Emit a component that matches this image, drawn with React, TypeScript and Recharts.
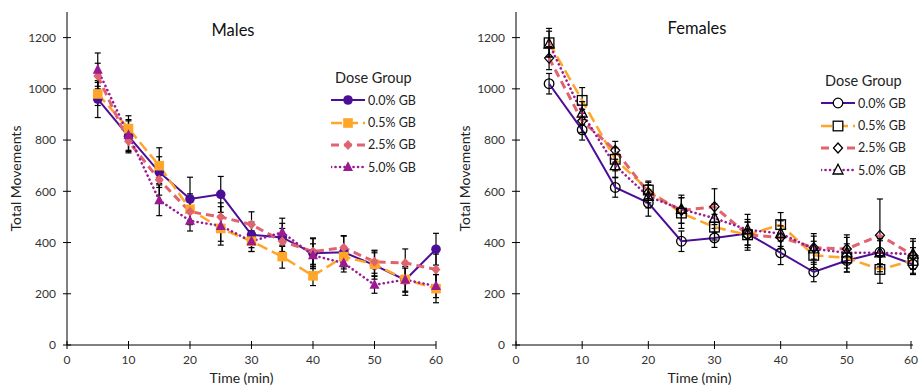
import React from 'react'
import { LineChart, Line, XAxis, YAxis, ErrorBar } from 'recharts'

// minutes
const times = [5, 10, 15, 20, 25, 30, 35, 40, 45, 50, 55, 60]
const xTicks = [0, 10, 20, 30, 40, 50, 60]
const yTicks = [0, 200, 400, 600, 800, 1000, 1200]

const doseGroups = ['0.0% GB', '0.5% GB', '2.5% GB', '5.0% GB']

// Males
const male00 = [960, 815, 675, 570, 588, 430, 420, 358, 362, 312, 254, 374]
const male05 = [980, 845, 700, 530, 455, 405, 345, 270, 345, 315, 256, 220]
const male25 = [1050, 795, 645, 520, 500, 470, 405, 365, 380, 325, 320, 295]
const male50 = [1075, 820, 565, 485, 465, 405, 440, 350, 320, 235, 255, 230]
const maleErr00 = [72, 60, 60, 85, 70, 50, 55, 60, 65, 55, 60, 62]
const maleErr05 = [45, 50, 70, 60, 50, 40, 45, 38, 40, 45, 50, 55]
const maleErr25 = [50, 45, 60, 45, 55, 50, 50, 50, 45, 45, 55, 60]
const maleErr50 = [65, 60, 60, 40, 75, 40, 55, 45, 35, 33, 45, 45]

// Females
const female00 = [1020, 840, 615, 555, 405, 418, 435, 360, 285, 330, 362, 315]
const female05 = [1180, 955, 725, 605, 515, 460, 430, 470, 350, 340, 295, 330]
const female25 = [1120, 875, 760, 595, 525, 540, 430, 420, 380, 375, 428, 350]
const female50 = [1175, 905, 700, 580, 530, 495, 450, 435, 375, 360, 360, 355]
const femaleErr00 = [40, 40, 38, 52, 40, 37, 45, 46, 38, 45, 45, 40]
const femaleErr05 = [56, 50, 45, 35, 60, 50, 50, 47, 55, 55, 54, 50]
const femaleErr25 = [45, 45, 35, 40, 50, 70, 60, 45, 45, 55, 142, 55]
const femaleErr50 = [50, 45, 45, 45, 55, 55, 60, 50, 60, 60, 55, 60]

const buildRows = (vals: number[][], errs: number[][]) =>
  times.map((t, i) => ({
    t,
    v0: vals[0][i], v1: vals[1][i], v2: vals[2][i], v3: vals[3][i],
    e0: errs[0][i], e1: errs[1][i], e2: errs[2][i], e3: errs[3][i],
  }))

const maleData = buildRows([male00, male05, male25, male50], [maleErr00, maleErr05, maleErr25, maleErr50])
const femaleData = buildRows(
  [female00, female05, female25, female50],
  [femaleErr00, femaleErr05, femaleErr25, femaleErr50]
)

const FONT = 'Lato, "Open Sans", sans-serif'
const PLOT_BOTTOM = 345

type Shape = 'circle' | 'square' | 'diamond' | 'triangle'

const SERIES = [
  { key: 'v0', err: 'e0', color: '#4b0f97', dash: undefined as string | undefined, width: 2, shape: 'circle' as Shape, cap: 'butt' },
  { key: 'v1', err: 'e1', color: '#ffa528', dash: '11 5', width: 2.5, shape: 'square' as Shape, cap: 'butt' },
  { key: 'v2', err: 'e2', color: '#e0646f', dash: '8 5', width: 3, shape: 'diamond' as Shape, cap: 'butt' },
  { key: 'v3', err: 'e3', color: '#9a1a92', dash: '0.1 4.4', width: 2.6, shape: 'triangle' as Shape, cap: 'round' },
]

function Marker({ cx, cy, shape, fill, stroke, sw }: any) {
  if (cx == null || cy == null) return null
  if (shape === 'circle') return <circle cx={cx} cy={cy} r={4.8} fill={fill} stroke={stroke} strokeWidth={sw} />
  if (shape === 'square') return <rect x={cx - 4.8} y={cy - 4.8} width={9.6} height={9.6} fill={fill} stroke={stroke} strokeWidth={sw} />
  if (shape === 'diamond')
    return <polygon points={`${cx},${cy - 5} ${cx + 4.5},${cy} ${cx},${cy + 5} ${cx - 4.5},${cy}`} fill={fill} stroke={stroke} strokeWidth={sw} />
  return <polygon points={`${cx},${cy - 5.8} ${cx + 5},${cy + 4} ${cx - 5},${cy + 4}`} fill={fill} stroke={stroke} strokeWidth={sw} />
}

const makeDot = (shape: Shape, color: string, open: boolean) => (p: any) => (
  <Marker
    key={`d-${p.index}`}
    cx={p.cx}
    cy={p.cy}
    shape={shape}
    fill={open ? 'none' : color}
    stroke={open ? '#000' : color}
    sw={open ? 1.3 : 0}
  />
)

const XTick = (props: any) => {
  const { x, payload } = props
  return (
    <g>
      <line x1={x} x2={x} y1={PLOT_BOTTOM - 4} y2={PLOT_BOTTOM + 4} stroke="#000" />
      <text x={x} y={PLOT_BOTTOM + 10} dy="0.71em" textAnchor="middle" fontSize={12} fill="#333" fontFamily={FONT}>
        {payload.value}
      </text>
    </g>
  )
}

const makeYTick = (axisX: number) => (props: any) => {
  const { y, payload } = props
  return (
    <g>
      <line x1={axisX - 4} x2={axisX + 4} y1={y} y2={y} stroke="#000" />
      <text x={axisX - 11} y={y} dy="0.355em" textAnchor="end" fontSize={12} fill="#333" fontFamily={FONT}>
        {payload.value}
      </text>
    </g>
  )
}

function LegendBox({ left, top, open }: { left: number; top: number; open: boolean }) {
  return (
    <div style={{ position: 'absolute', left, top, fontFamily: FONT, color: '#222' }}>
      <div style={{ fontSize: 14.5, lineHeight: '18px', marginLeft: 4, marginBottom: 2 }}>Dose Group</div>
      {SERIES.map((s, i) => (
        <div key={s.key} style={{ display: 'flex', alignItems: 'center', height: 22.4 }}>
          <svg width={36} height={14} style={{ display: 'block' }}>
            <line x1={0} x2={34} y1={7} y2={7} stroke={s.color} strokeWidth={s.width} strokeDasharray={s.dash} strokeLinecap={s.cap as any} />
            <Marker cx={17} cy={7} shape={s.shape} fill={open ? '#fff' : s.color} stroke={open ? '#000' : s.color} sw={open ? 1.3 : 0} />
          </svg>
          <span style={{ fontSize: 12.5, marginLeft: 1 }}>{doseGroups[i]}</span>
        </div>
      ))}
    </div>
  )
}

function Panel({ data, width, axisX, plotW, open, labelDx, xLabelDx }: any) {
  return (
    <LineChart width={width} height={386} data={data} margin={{ top: 12, right: width - axisX - plotW, bottom: 0, left: 0 }}>
      <XAxis
        dataKey="t"
        type="number"
        domain={[0, 60]}
        ticks={xTicks}
        height={41}
        tickLine={false}
        axisLine={{ stroke: '#000', strokeWidth: 1 }}
        tick={XTick}
        label={{ value: 'Time (min)', position: 'insideBottom', offset: 3, dx: xLabelDx, fontSize: 14, fill: '#222', fontFamily: FONT }}
      />
      <YAxis
        type="number"
        domain={[0, 1300]}
        ticks={yTicks}
        width={axisX}
        tickLine={false}
        axisLine={{ stroke: '#000', strokeWidth: 1 }}
        tick={makeYTick(axisX)}
        label={{ value: 'Total Movements', angle: -90, position: 'center', dx: labelDx, fontSize: 14, fill: '#222', fontFamily: FONT }}
      />
      {SERIES.map((s) => (
        <Line
          key={s.key}
          type="linear"
          dataKey={s.key}
          stroke={s.color}
          strokeWidth={s.width}
          strokeDasharray={s.dash}
          strokeLinecap={s.cap as any}
          dot={makeDot(s.shape, s.color, open)}
          activeDot={false}
          isAnimationActive={false}
        >
          <ErrorBar dataKey={s.err} width={3} stroke="#000" strokeWidth={1.2} direction="y" isAnimationActive={false} />
        </Line>
      ))}
    </LineChart>
  )
}

export default function App() {
  return (
    <div style={{ position: 'absolute', left: 0, top: 0, width: 919, height: 386, background: '#fff', overflow: 'hidden', fontFamily: FONT }}>
      <div style={{ position: 'absolute', left: 0, top: 0 }}>
        <Panel data={maleData} width={450} axisX={67} plotW={369} open={false} labelDx={-17} xLabelDx={-10} />
      </div>
      <div style={{ position: 'absolute', left: 450, top: 0 }}>
        <Panel data={femaleData} width={469} axisX={66} plotW={397} open={true} labelDx={-18} xLabelDx={-15} />
      </div>
      <div style={{ position: 'absolute', left: 193, width: 80, top: 22, textAlign: 'center', fontSize: 16.5, lineHeight: '16px', color: '#111' }}>
        Males
      </div>
      <div style={{ position: 'absolute', left: 647, width: 100, top: 20, textAlign: 'center', fontSize: 16.5, lineHeight: '16px', color: '#111' }}>
        Females
      </div>
      <LegendBox left={331} top={69} open={false} />
      <LegendBox left={821} top={72} open={true} />
    </div>
  )
}
